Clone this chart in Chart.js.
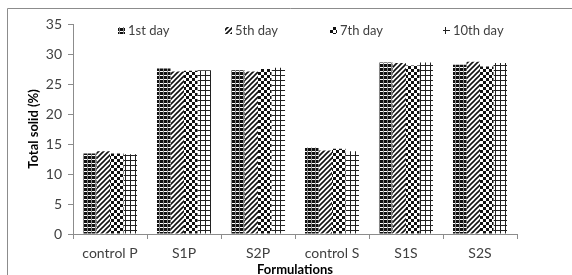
<!DOCTYPE html>
<html>
<head>
<meta charset="utf-8">
<script src="https://cdn.jsdelivr.net/npm/chart.js@4"></script>
<style>
  html, body { margin: 0; padding: 0; background: #fff; }
  #wrap { position: relative; width: 572px; height: 275px; }
</style>
</head>
<body>
<div id="wrap"><canvas id="solidChart" width="572" height="275"></canvas></div>
<script>
// data
const formulations = ['control P', 'S1P', 'S2P', 'control S', 'S1S', 'S2S'];
const day1 = [13.4, 27.6, 27.3, 14.4, 28.6, 28.2];
const day5 = [13.8, 27.1, 27.1, 13.9, 28.5, 28.7];
const day7 = [13.4, 27.2, 27.5, 14.2, 28.1, 27.9];
const day10 = [13.3, 27.3, 27.7, 13.8, 28.6, 28.5];
const dayLabels = ['1st day', '5th day', '7th day', '10th day'];

const FONT = 'Lato, "Liberation Sans", sans-serif';

// small tile patterns like the Excel fills
function makePattern(size, draw) {
    const c = document.createElement('canvas');
    c.width = size;
    c.height = size;
    const g = c.getContext('2d');
    g.fillStyle = '#fff';
    g.fillRect(0, 0, size, size);
    draw(g);
    return document.getElementById('solidChart').getContext('2d').createPattern(c, 'repeat');
}

const pat1 = makePattern(4, function (g) {
    g.fillStyle = '#111';
    g.fillRect(0, 0, 3, 3);
    g.fillStyle = '#888';
    g.fillRect(3, 0, 1, 4);
});
const pat5 = makePattern(5, function (g) {
    g.strokeStyle = '#111';
    g.lineWidth = 1.6;
    g.beginPath();
    g.moveTo(-1, 6); g.lineTo(6, -1);
    g.moveTo(-1, 1); g.lineTo(1, -1);
    g.moveTo(4, 6); g.lineTo(6, 4);
    g.stroke();
});
const pat7 = makePattern(6, function (g) {
    g.fillStyle = '#111';
    g.fillRect(0, 0, 3, 3);
    g.fillRect(3, 3, 3, 3);
});
const pat10 = makePattern(5, function (g) {
    g.fillStyle = '#222';
    g.fillRect(0, 0, 5, 1);
    g.fillRect(0, 0, 1, 5);
});
const fills = [pat1, pat5, pat7, pat10];

// frame line and custom legend inside the plot
const framePlugin = {
    id: 'frame',
    beforeDraw(chart) {
        const ctx = chart.ctx;
        ctx.save();
        ctx.strokeStyle = '#8c8c8c';
        ctx.lineWidth = 1;
        ctx.beginPath();
        ctx.moveTo(7.5, 280);
        ctx.lineTo(7.5, 8.5);
        ctx.lineTo(580, 8.5);
        ctx.stroke();
        ctx.restore();
    },
    afterDraw(chart) {
        const ctx = chart.ctx;
        const xs = [118, 225, 330, 443];
        ctx.save();
        ctx.font = '13px ' + FONT;
        ctx.textBaseline = 'middle';
        chart.data.datasets.forEach(function (ds, i) {
            ctx.fillStyle = ds.backgroundColor;
            ctx.fillRect(xs[i], 27, 7, 7);
            ctx.fillStyle = '#404040';
            ctx.fillText(ds.label, xs[i] + 10, 31);
        });
        ctx.restore();
    }
};

const ctx = document.getElementById('solidChart').getContext('2d');
const solidChart = new Chart(ctx, {
    type: 'bar',
    data: {
        labels: formulations,
        datasets: [
            { label: dayLabels[0], data: day1, backgroundColor: fills[0] },
            { label: dayLabels[1], data: day5, backgroundColor: fills[1] },
            { label: dayLabels[2], data: day7, backgroundColor: fills[2] },
            { label: dayLabels[3], data: day10, backgroundColor: fills[3] }
        ]
    },
    options: {
        responsive: false,
        animation: false,
        layout: { padding: { left: 0, top: 24, right: 55, bottom: 0 } },
        datasets: { bar: { barPercentage: 1, categoryPercentage: 0.73 } },
        plugins: {
            legend: { display: false },
            tooltip: { enabled: false }
        },
        scales: {
            x: {
                grid: { drawOnChartArea: false, drawTicks: true, tickLength: 5, color: '#8c8c8c', offset: true },
                border: { display: true, color: '#8c8c8c' },
                ticks: { color: '#404040', font: { family: FONT, size: 14 }, padding: 6, maxRotation: 0 },
                title: { display: true, text: 'Formulations', color: '#000', font: { family: FONT, size: 13, weight: 'bold' }, padding: { top: 2, bottom: -3 } },
                afterFit(scale) { scale.height = 41; }
            },
            y: {
                min: 0,
                max: 35,
                grid: { drawOnChartArea: false, drawTicks: true, tickLength: 5, color: '#8c8c8c' },
                border: { display: true, color: '#8c8c8c' },
                ticks: { stepSize: 5, color: '#404040', font: { family: FONT, size: 14 }, padding: 6 },
                title: { display: true, text: 'Total solid (%)', color: '#000', font: { family: FONT, size: 13, weight: 'bold' }, padding: { top: 26, bottom: 0 } },
                afterFit(scale) { scale.width = 73; }
            }
        }
    },
    plugins: [framePlugin]
});
</script>
</body>
</html>
